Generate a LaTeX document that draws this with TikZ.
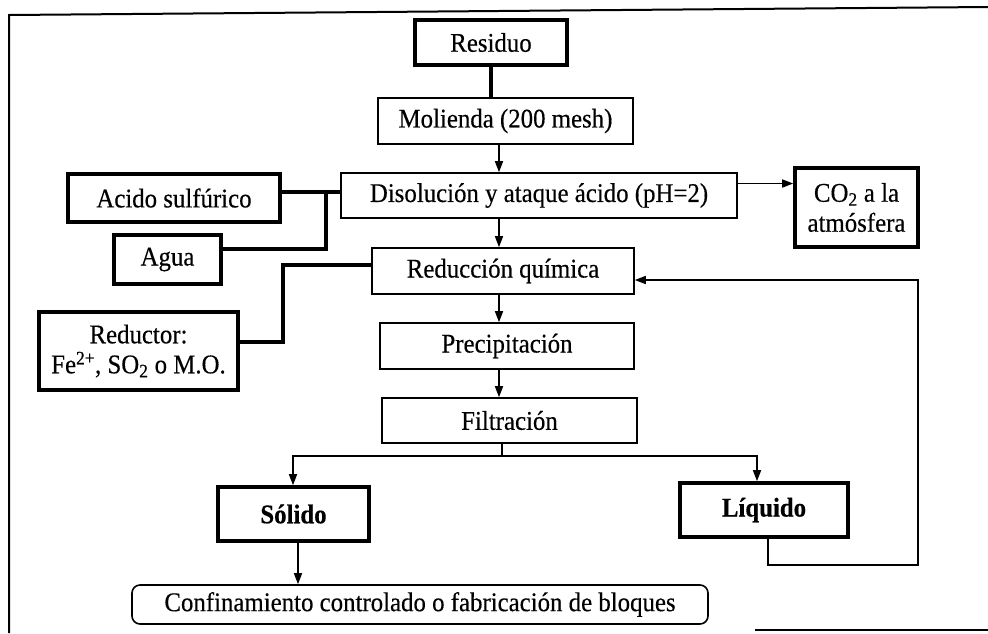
\documentclass[tikz,border=0pt]{standalone}
\usepackage{fontspec}
\setmainfont{Liberation Serif}[FakeStretch = 0.92, FakeBold = 0.4]
\usetikzlibrary{arrows.meta}
\usetikzlibrary{shapes}

\begin{document}
\begin{tikzpicture}[x = 1pt, y = -1pt, font=\fontsize{27}{30}\selectfont]
	\tikzstyle{thinBox} = [draw, line width = 1.6pt, inner sep = 0pt, align = center]
	\tikzstyle{thickBox} = [draw, line width = 3.6pt, inner sep = 0pt, align = center]
	\tikzstyle{arrowStyle} = [line width = 1.6pt, -{Triangle[length = 11pt, width = 8pt]}]
	\tikzstyle{pipeStyle} = [line width = 3.6pt]
	\tikzstyle{frameStyle} = [line width = 2pt]
	\useasboundingbox (0,0) rectangle (988,633);
	% frame
	\draw[frameStyle] (9,633) -- (9,15) -- (988,7);
	\draw[frameStyle] (755,630) -- (988,630);
	% main line
	\node[thickBox, minimum width = 152pt, minimum height = 45pt] (res) at (491,42.5) {Residuo};
	\node[thinBox, minimum width = 255pt, minimum height = 46pt] (mol) at (505.5,121) {Molienda (200 mesh)};
	\node[thinBox, minimum width = 396pt, minimum height = 45pt] (dis) at (539,195.5) {Disolución y ataque ácido (pH=2)};
	\node[thickBox, minimum width = 123pt, minimum height = 79pt] (co2) at (856.5,207.5) {CO\textsubscript{2} a la\\atmósfera};
	\node[thinBox, minimum width = 262pt, minimum height = 46pt] (red) at (503,271) {Reducción química};
	\node[thinBox, minimum width = 254pt, minimum height = 46pt] (pre) at (507,346) {Precipitación};
	\node[thinBox, minimum width = 255pt, minimum height = 45pt] (fil) at (509.5,420.5) {Filtración};
	% inputs
	\node[thickBox, minimum width = 212pt, minimum height = 48pt] (acid) at (174,198) {Acido sulfúrico};
	\node[thickBox, minimum width = 107pt, minimum height = 49pt] (agua) at (167.5,259.5) {Agua};
	\node[thickBox, minimum width = 199pt, minimum height = 78pt] (redu) at (138.5,351) {Reductor:\\Fe\textsuperscript{2+}, SO\textsubscript{2} o M.O.};
	% outputs
	\node[thickBox, minimum width = 151pt, minimum height = 54pt] (sol) at (293.5,514) {\textbf{Sólido}};
	\node[thickBox, minimum width = 168pt, minimum height = 54pt] (liq) at (764,510) {\textbf{Líquido}};
	\node[thinBox, rounded corners = 8pt, minimum width = 576pt, minimum height = 39pt] (conf) at (420,604.5) {Confinamiento controlado o fabricación de bloques};
	% junctions
	\coordinate (axis) at (499,0);
	\coordinate (jAcid) at (326,192);
	\coordinate (jRed) at (283,265);
	\coordinate (split) at (502,456);
	\coordinate (back) at (918,565);
	% connectors
	\draw[pipeStyle] (res.south) -- (res.south |- mol.north);
	\draw[arrowStyle] (axis |- mol.south) -- (axis |- dis.north);
	\draw[arrowStyle] ([yshift = 12pt]dis.east) -- ([yshift = 12pt]dis.east -| co2.west);
	\draw[arrowStyle] (axis |- dis.south) -- (axis |- red.north);
	\draw[arrowStyle] (axis |- red.south) -- (axis |- pre.north);
	\draw[arrowStyle] (axis |- pre.south) -- (axis |- fil.north);
	\draw[pipeStyle] ([yshift = 6pt]acid.east) -- ([yshift = 6pt]acid.east -| dis.west);
	\draw[pipeStyle] ([yshift = 10.5pt]agua.east) -| (jAcid);
	\draw[pipeStyle] ([yshift = 9pt]redu.east) -| (jRed) -- (jRed -| red.west);
	\draw[line width = 1.6pt] (split |- fil.south) -- (split);
	\draw[arrowStyle] (split) -| ([xshift = -0.5pt]sol.north);
	\draw[arrowStyle] (split) -| ([xshift = -7pt]liq.north);
	\draw[arrowStyle] ([xshift = 4.5pt]sol.south) -- ([xshift = 4.5pt]sol.south |- conf.north);
	\draw[arrowStyle] ([xshift = 4pt]liq.south) |- (back) |- ([yshift = -9pt]red.east);
\end{tikzpicture}
\end{document}
